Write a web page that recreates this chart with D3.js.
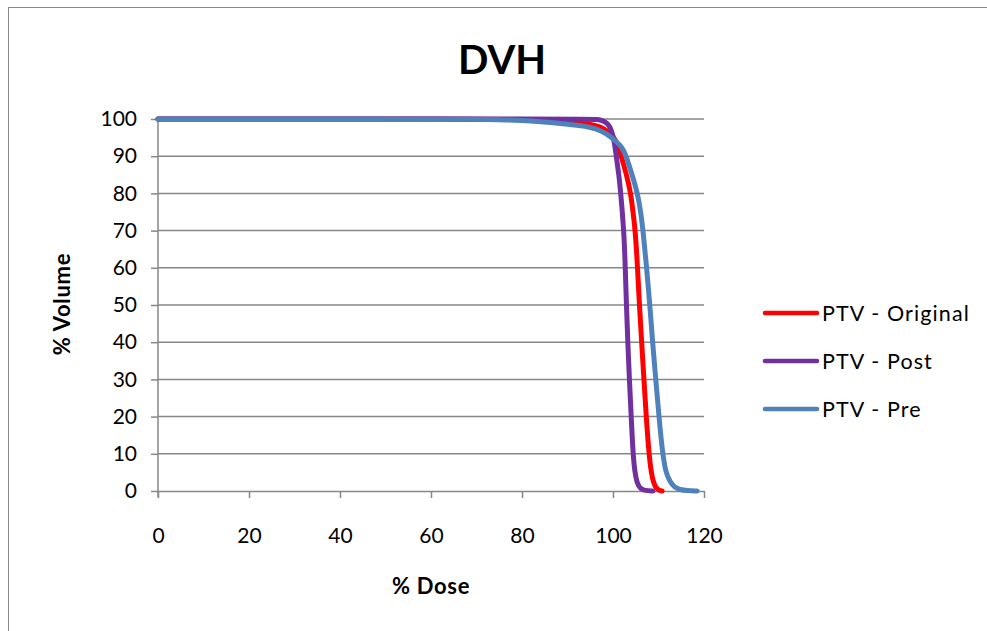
<!DOCTYPE html>
<html>
<head>
<meta charset="utf-8">
<script src="https://cdn.jsdelivr.net/npm/d3@7"></script>
<style>
  html, body { margin: 0; padding: 0; background: #fff; }
  svg { display: block; }
</style>
</head>
<body>
<svg id="chart" width="987" height="631"></svg>
<script>
// Dose-volume histogram for three PTV plans
const doseTicks = [0, 20, 40, 60, 80, 100, 120];
const volumeTicks = [0, 10, 20, 30, 40, 50, 60, 70, 80, 90, 100];
const seriesNames = ["PTV - Original", "PTV - Post", "PTV - Pre"];
const seriesColors = ["#ff0000", "#7030a0", "#4f81bd"];

const originalDose   = [0, 70, 80, 85, 90, 95.2, 98, 100.2, 101.1, 101.8, 103.0, 103.9, 104.4, 104.9, 105.4, 105.8, 106.3, 106.8, 107.3, 107.9, 108.4, 108.9, 109.5, 110.2, 110.8];
const originalVolume = [100, 100, 99.9, 99.7, 99.4, 98.7, 97.6, 95.3, 93, 90, 85, 80, 75, 70, 60, 50, 40, 30, 20, 10, 5, 2.2, 0.7, 0.15, 0];

const postDose   = [0, 95, 96.5, 97.8, 98.8, 99.5, 100, 100.4, 100.7, 101.3, 101.7, 102.4, 102.7, 102.95, 103.25, 103.6, 104.0, 104.4, 104.8, 105.3, 106, 107, 108.8];
const postVolume = [100, 100, 99.9, 99.6, 98.8, 97.5, 95.5, 93, 90, 85, 80, 70, 60, 50, 40, 30, 20, 10, 5, 2, 0.6, 0.1, 0];

const preDose   = [0, 60, 70, 75, 80, 84, 88.6, 92, 95.2, 97.5, 99.6, 102, 102.9, 104.2, 105.4, 106.1, 106.6, 107.4, 108.1, 108.7, 109.4, 110.1, 110.9, 111.6, 112.5, 113.5, 114.7, 116.3, 118.5];
const preVolume = [100, 100, 99.9, 99.8, 99.6, 99.3, 98.8, 98.3, 97.8, 96.8, 95.2, 92.6, 90, 85, 80, 75, 70, 60, 50, 40, 30, 20, 10, 5, 2.5, 1, 0.35, 0.08, 0];

const series = [
  { name: seriesNames[0], color: seriesColors[0], dose: originalDose, volume: originalVolume },
  { name: seriesNames[1], color: seriesColors[1], dose: postDose, volume: postVolume },
  { name: seriesNames[2], color: seriesColors[2], dose: preDose, volume: preVolume }
];

const svg = d3.select("#chart");
const font = "Lato, 'Open Sans', sans-serif";
const gridColor = "#878787";

// chart frame
svg.append("rect")
  .attr("x", 8.5).attr("y", 7.5)
  .attr("width", 990).attr("height", 640)
  .attr("fill", "#fff")
  .attr("stroke", "#888").attr("stroke-width", 1);

const plot = { left: 158, right: 704, top: 119, bottom: 491 };

const x = d3.scaleLinear().domain([0, 120]).range([plot.left, plot.right]);
const y = d3.scaleLinear().domain([0, 100]).range([plot.bottom, plot.top]);

// horizontal gridlines
svg.append("g")
  .selectAll("line")
  .data(volumeTicks.filter(v => v > 0))
  .join("line")
  .attr("x1", plot.left).attr("x2", plot.right)
  .attr("y1", d => y(d)).attr("y2", d => y(d))
  .attr("stroke", gridColor).attr("stroke-width", 1.5);

// y axis
const yAxis = svg.append("g")
  .attr("transform", `translate(${plot.left},0)`)
  .call(d3.axisLeft(y).tickValues(volumeTicks).tickSize(7).tickSizeOuter(0).tickPadding(14));
yAxis.select(".domain").attr("stroke", gridColor).attr("stroke-width", 1.5)
  .attr("d", `M0,${plot.top}V${plot.bottom + 6}`);
yAxis.selectAll(".tick line").attr("stroke", gridColor).attr("stroke-width", 1.5);
yAxis.selectAll(".tick text")
  .attr("font-family", font).attr("font-size", 21).attr("fill", "#000");

// x axis
const xAxis = svg.append("g")
  .attr("transform", `translate(0,${plot.bottom})`)
  .call(d3.axisBottom(x).tickValues(doseTicks).tickSize(7).tickSizeOuter(0).tickPadding(30));
xAxis.select(".domain").attr("stroke", gridColor).attr("stroke-width", 1.5);
xAxis.selectAll(".tick line").attr("stroke", gridColor).attr("stroke-width", 1.5);
xAxis.selectAll(".tick text")
  .attr("font-family", font).attr("font-size", 21).attr("fill", "#000");

// curves (B-spline keeps them inside 0–100 without overshoot)
const line = d3.line()
  .x(d => x(d[0]))
  .y(d => y(d[1]))
  .curve(d3.curveBasis);

svg.append("g")
  .selectAll("path")
  .data(series)
  .join("path")
  .attr("d", s => line(s.dose.map((d, i) => [d, s.volume[i]])))
  .attr("fill", "none")
  .attr("stroke", s => s.color)
  .attr("stroke-width", 5)
  .attr("stroke-linecap", "round")
  .attr("stroke-linejoin", "round");

// title
svg.append("text")
  .attr("x", 502).attr("y", 74)
  .attr("text-anchor", "middle")
  .attr("font-family", font).attr("font-weight", "bold").attr("font-size", 40)
  .text("DVH");

// axis titles
svg.append("text")
  .attr("x", 431).attr("y", 594)
  .attr("text-anchor", "middle")
  .attr("font-family", font).attr("font-weight", "bold").attr("font-size", 22)
  .attr("letter-spacing", 0.7)
  .text("% Dose");

svg.append("text")
  .attr("transform", "translate(70,304) rotate(-90)")
  .attr("text-anchor", "middle")
  .attr("font-family", font).attr("font-weight", "bold").attr("font-size", 22)
  .attr("letter-spacing", 0.7)
  .text("% Volume");

// legend
const legend = svg.append("g")
  .selectAll("g")
  .data(series)
  .join("g")
  .attr("transform", (d, i) => `translate(765,${313 + i * 48})`);
legend.append("line")
  .attr("x1", 0).attr("x2", 52)
  .attr("stroke", d => d.color).attr("stroke-width", 4.5)
  .attr("stroke-linecap", "round");
legend.append("text")
  .attr("x", 57).attr("y", 7.5)
  .attr("font-family", font).attr("font-size", 21.5)
  .attr("letter-spacing", 1.1)
  .text(d => d.name);
</script>
</body>
</html>
